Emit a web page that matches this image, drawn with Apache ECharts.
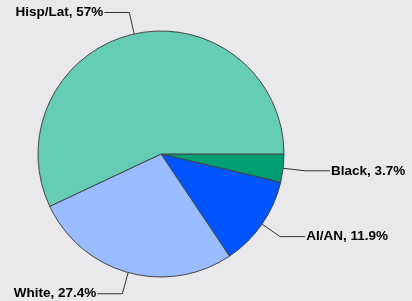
<!DOCTYPE html>
<html>
<head>
<meta charset="utf-8">
<script src="https://cdn.jsdelivr.net/npm/echarts@6/dist/echarts.min.js"></script>
<style>
  html, body { margin: 0; padding: 0; background: #e9e9ec; }
  #main { width: 412px; height: 301px; }
</style>
</head>
<body>
<div id="main"></div>
<script>
// slices in clockwise order starting at 3 o'clock
var categories = ['Black', 'AI/AN', 'White', 'Hisp/Lat'];
var shares = [3.7, 11.9, 27.4, 57];
var colors = ['#009e73', '#0055ff', '#99bbff', '#66cdb5'];

var chart = echarts.init(document.getElementById('main'), null, { renderer: 'canvas' });

var pieData = categories.map(function (name, i) {
  return { name: name, value: shares[i], itemStyle: { color: colors[i] } };
});

var option = {
  backgroundColor: '#e9e9ec',
  animation: false,
  series: [{
    type: 'pie',
    center: [161, 154],
    radius: 123,
    startAngle: 0,
    clockwise: true,
    avoidLabelOverlap: false,
    data: pieData,
    itemStyle: {
      borderColor: '#444',
      borderWidth: 1
    },
    label: {
      show: true,
      position: 'outside',
      formatter: function (p) { return p.name + ', ' + p.value + '%'; },
      fontFamily: 'Liberation Sans, Arial, sans-serif',
      fontWeight: 'bold',
      fontSize: 13.5,
      color: '#000',
      distanceToLabelLine: 1
    },
    labelLine: {
      show: true,
      length: 22,
      length2: 25,
      lineStyle: { color: '#333', width: 1 }
    },
    emphasis: { disabled: true }
  }]
};

chart.setOption(option);
</script>
</body>
</html>
